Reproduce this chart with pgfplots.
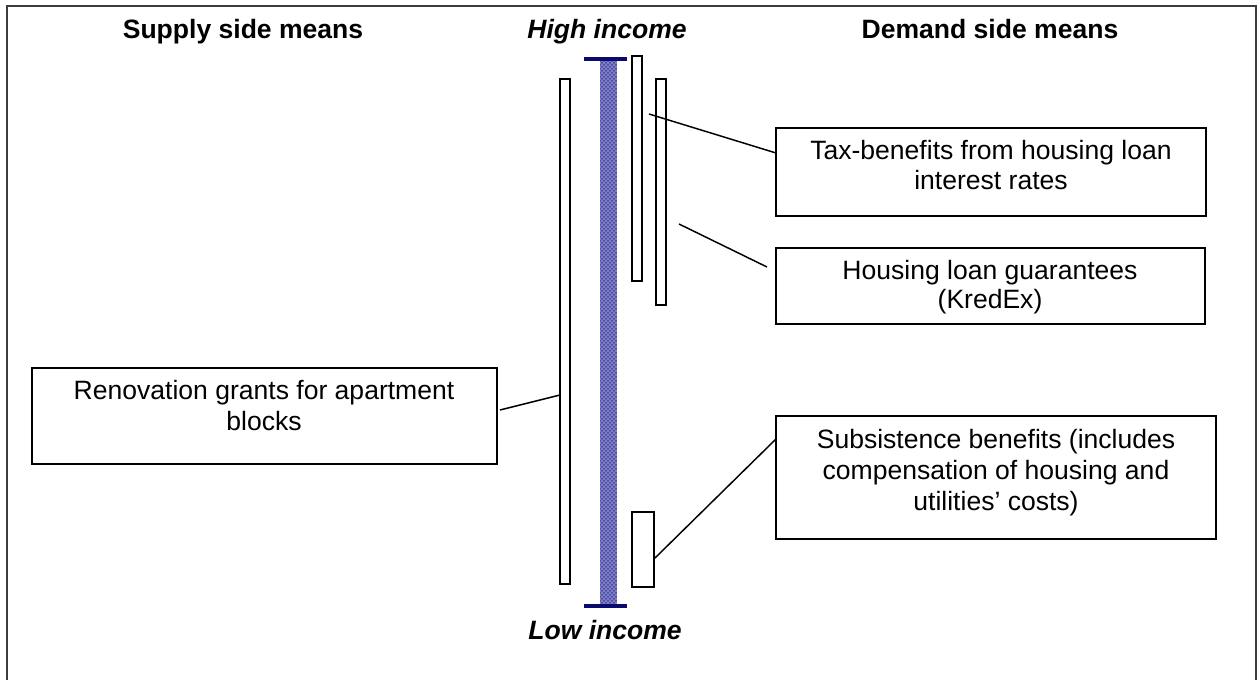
\documentclass[border=0pt]{standalone}
\usepackage{pgfplots}
\pgfplotsset{compat=1.18}
\usepackage{fontspec}
\setmainfont{Liberation Sans}
\usetikzlibrary{patterns}
\definecolor{navyc}{RGB}{10,10,110}
\definecolor{lav}{RGB}{125,125,200}
\definecolor{frame}{RGB}{60,60,60}
\newcommand\fs{\fontsize{19.9}{23}\selectfont}
\begin{document}
\begin{tikzpicture}
\begin{axis}[
  scale only axis, width=943.5pt, height=510pt,
  xmin=0, xmax=1258, ymin=0, ymax=680, y dir=reverse,
  axis line style={draw=none}, xtick=\empty, ytick=\empty,
  clip=false, no markers,
]
% outer frame
\addplot[frame, line width=1.3pt] coordinates {(7,680) (7,6) (1256,6) (1256,680)};
% central income bar
\addplot[draw=none, fill=lav] coordinates {(600,60) (617,60) (617,605) (600,605)} -- cycle;
\addplot[draw=none, pattern=crosshatch dots, pattern color=navyc] coordinates {(600,60) (617,60) (617,605) (600,605)} -- cycle;
\addplot[navyc, line width=2.4pt] coordinates {(584,59) (627,59)};
\addplot[navyc, line width=2.4pt] coordinates {(584,606) (627,606)};
% measure bars
\addplot[black, fill=white, line width=1.2pt] coordinates {(560,79) (570,79) (570,584) (560,584)} -- cycle;
\addplot[black, fill=white, line width=1.2pt] coordinates {(632,56) (642,56) (642,281) (632,281)} -- cycle;
\addplot[black, fill=white, line width=1.2pt] coordinates {(656,79) (666,79) (666,305) (656,305)} -- cycle;
\addplot[black, fill=white, line width=1.2pt] coordinates {(632,512) (654,512) (654,587) (632,587)} -- cycle;
% label boxes
\addplot[black, line width=1pt] coordinates {(776,128) (1206,128) (1206,216) (776,216)} -- cycle;
\addplot[black, line width=1pt] coordinates {(776,248) (1205,248) (1205,324) (776,324)} -- cycle;
\addplot[black, line width=1pt] coordinates {(776,416) (1216,416) (1216,539) (776,539)} -- cycle;
\addplot[black, line width=1pt] coordinates {(32,368) (497,368) (497,464) (32,464)} -- cycle;
% connectors
\addplot[black, line width=1.1pt] coordinates {(649,114) (776,153)};
\addplot[black, line width=1.1pt] coordinates {(679,224) (767,267)};
\addplot[black, line width=1.1pt] coordinates {(500,410) (560,395)};
\addplot[black, line width=1.1pt] coordinates {(655,558) (776,439)};
% texts
\node[anchor=base, font=\fs\bfseries] at (axis cs:243,39) {Supply side means};
\node[anchor=base, font=\fs\bfseries] at (axis cs:990,39) {Demand side means};
\node[anchor=base, font=\fs\bfseries\itshape] at (axis cs:607,39) {High income};
\node[anchor=base, font=\fs\bfseries\itshape] at (axis cs:605,639) {Low income};
\node[anchor=base, font=\fs] at (axis cs:991,160) {Tax-benefits from housing loan};
\node[anchor=base, font=\fs] at (axis cs:991,190) {interest rates};
\node[anchor=base, font=\fs] at (axis cs:990,280) {Housing loan guarantees};
\node[anchor=base, font=\fs] at (axis cs:990,309) {(KredEx)};
\node[anchor=base, font=\fs] at (axis cs:996,448) {Subsistence benefits (includes};
\node[anchor=base, font=\fs] at (axis cs:996,479) {compensation of housing and};
\node[anchor=base, font=\fs] at (axis cs:996,510) {utilities’ costs)};
\node[anchor=base, font=\fs] at (axis cs:264,399) {Renovation grants for apartment};
\node[anchor=base, font=\fs] at (axis cs:264,431) {blocks};
\end{axis}
\end{tikzpicture}
\end{document}
